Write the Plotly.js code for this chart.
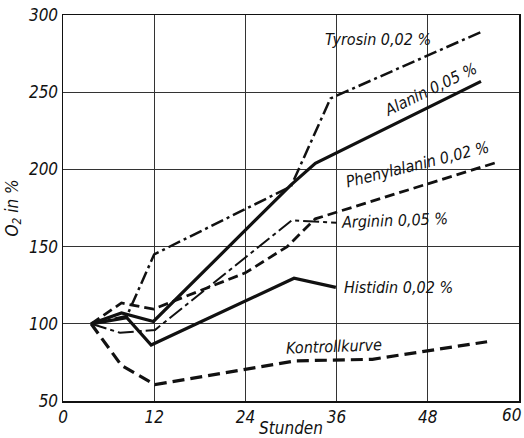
<!DOCTYPE html>
<html>
<head>
<meta charset="utf-8">
<script src="https://cdn.plot.ly/plotly-3.0.1.min.js"></script>
<style>
  html, body { margin: 0; padding: 0; background: #fff; }
  #chart { width: 524px; height: 438px; }
</style>
</head>
<body>
<div id="chart"></div>
<script>
// O2 consumption (% of start) over time in hours, per amino acid
const tyrosinHours = [3.7, 8.4, 12, 30, 35.2, 55];
const tyrosinO2 = [100, 105, 145, 189, 246, 289];

const alaninHours = [3.7, 7.7, 11.9, 30, 33.2, 55];
const alaninO2 = [100, 107, 101.5, 190, 204, 257];

const phenylHours = [3.7, 7.7, 11.9, 24, 29.5, 33.2, 57.1];
const phenylO2 = [100, 113.5, 109.5, 133, 150, 168, 204.6];

const argininHours = [3.7, 7.5, 12.1, 30.1, 36];
const argininO2 = [100, 94.2, 96, 167, 165.5];

const histidinHours = [3.7, 8.4, 11.6, 30.4, 35.9];
const histidinO2 = [100, 104, 86.3, 129.5, 123.6];

const kontrollHours = [3.7, 7.7, 12.1, 30.6, 40.7, 55.8];
const kontrollO2 = [100, 73, 60.6, 76, 77, 88.4];

const xTicks = [0, 12, 24, 36, 48, 60];
const yTicks = [50, 100, 150, 200, 250, 300];

// curve labels: text, anchor hour, anchor value, angle
const labelTexts = ['Tyrosin 0,02 %', 'Alanin 0,05 %', 'Phenylalanin 0,02 %', 'Arginin 0,05 %', 'Histidin 0,02 %', 'Kontrollkurve'];
const labelHours = [41.5, 48.3, 46.6, 43.6, 44.2, 35.6];
const labelValues = [284, 252, 203, 167.2, 123.8, 85.5];
const labelAngles = [0, -26, -14, -2, 0, -2];

const FONT = '"DejaVu Sans Condensed", "Liberation Sans Narrow", "DejaVu Sans", sans-serif';
const tickFont = { family: FONT, size: 17, color: '#111', style: 'italic' };

function curve(x, y, width, dash) {
  return {
    x: x, y: y, type: 'scatter', mode: 'lines',
    line: { color: '#111', width: width, dash: dash },
    hoverinfo: 'skip', showlegend: false
  };
}

const data = [
  curve(tyrosinHours, tyrosinO2, 2.5, '13px,4px,3px,4px'),
  curve(alaninHours, alaninO2, 3.2, 'solid'),
  curve(phenylHours, phenylO2, 2.8, '10px,5px'),
  curve(argininHours, argininO2, 2, '16px,4px,4px,4px'),
  curve(histidinHours, histidinO2, 3.2, 'solid'),
  curve(kontrollHours, kontrollO2, 3.2, '12px,6px')
];

const annotations = labelTexts.map((t, i) => ({
  text: t, x: labelHours[i], y: labelValues[i], xref: 'x', yref: 'y',
  showarrow: false, textangle: labelAngles[i],
  font: { family: FONT, size: 16, color: '#111', style: 'italic' }
}));

// last x tick label sits flush with the right page edge
const lastTick = xTicks[xTicks.length - 1];
annotations.push({
  text: String(lastTick), x: 1, y: 0, xref: 'paper', yref: 'paper',
  xanchor: 'right', yanchor: 'top', xshift: 4, yshift: -2,
  showarrow: false, font: tickFont
});

const axisBase = {
  showline: true, mirror: true, linecolor: '#111', linewidth: 1.5,
  showgrid: true, gridcolor: '#333', gridwidth: 1,
  zeroline: false, ticks: '', tickfont: tickFont
};

const layout = {
  width: 524, height: 438,
  margin: { l: 63, r: 5, t: 15, b: 37 },
  paper_bgcolor: '#fff', plot_bgcolor: '#fff',
  xaxis: Object.assign({}, axisBase, {
    range: [0, 60], tickvals: xTicks,
    ticktext: xTicks.map(v => v === lastTick ? '' : String(v)),
    title: { text: 'Stunden', standoff: 0, font: { family: FONT, size: 17, color: '#111', style: 'italic' } }
  }),
  yaxis: Object.assign({}, axisBase, {
    range: [50, 300], tickvals: yTicks, ticktext: yTicks.map(String),
    title: { text: 'O<sub>2</sub> in %', standoff: 6, font: { family: FONT, size: 17, color: '#111', style: 'italic' } }
  }),
  annotations: annotations
};

Plotly.newPlot('chart', data, layout, { staticPlot: true, displayModeBar: false });
</script>
</body>
</html>
